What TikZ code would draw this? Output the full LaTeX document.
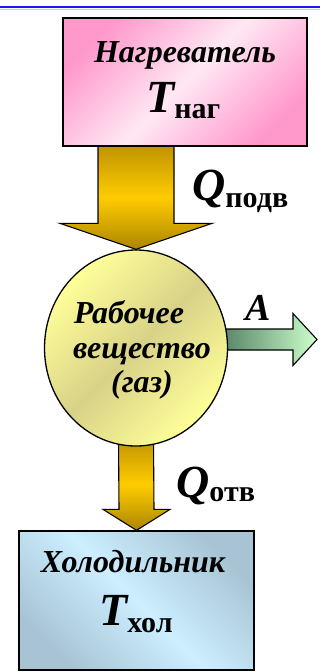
\documentclass[tikz,border=0pt]{standalone}
\usepackage{fontspec}
\setmainfont{Liberation Serif}[BoldItalicFont={Liberation Serif Bold Italic}, BoldFont={Liberation Serif Bold}]
\usetikzlibrary{calc,backgrounds,shapes.geometric}
\definecolor{pinkdeep}{HTML}{FF99CC}
\definecolor{pinklight}{HTML}{FFE8F4}
\definecolor{golddark}{HTML}{BF9400}
\definecolor{goldlight}{HTML}{FFCC00}
\definecolor{gaslight}{HTML}{FFFF99}
\definecolor{gasdark}{HTML}{D8D288}
\definecolor{greendark}{HTML}{568466}
\definecolor{greenlight}{HTML}{CCFFCC}
\definecolor{bluelight}{HTML}{CCEEFF}
\definecolor{bluegray}{HTML}{A8C4D4}
\definecolor{topline}{HTML}{1A1AFF}
\newcommand{\BigLetter}[1]{{\fontsize{46}{46}\selectfont\bfseries\itshape #1}}
\newcommand{\SubText}[2][6pt]{\raisebox{-#1}{\fontsize{30}{30}\selectfont\bfseries #2}}
\begin{document}
\begin{tikzpicture}[x=1pt,y=-1pt,
  boxstyle/.style={draw=black, line width=1.3pt, rectangle, inner sep=0pt},
  lbl/.style={inner sep=0pt, font=\fontsize{32}{32}\selectfont\bfseries\itshape},
  goldarrow/.style={draw=black, line width=1.1pt, top color=golddark, bottom color=golddark!90!black, middle color=goldlight},
  greenarrow/.style={draw=black, line width=1.1pt, left color=greendark, right color=greenlight}]
\useasboundingbox (0,0) rectangle (320,672);
% top rule
\draw[topline, line width=2.2pt] (0,7) -- (320,7);
\draw[topline!25, line width=1pt] (0,9.5) -- (320,9.5);
% boxes
\node[boxstyle, minimum width=244, minimum height=128, top color=pinkdeep, bottom color=pinkdeep, middle color=pinklight, shading angle=45] (heater) at (185,82) {};
\node[boxstyle, minimum width=235, minimum height=139, top color=bluegray, bottom color=bluegray, middle color=bluelight, shading angle=-45] (cooler) at (136.5,600.5) {};
\node[draw=black, line width=1.3pt, ellipse, minimum width=183, minimum height=196, inner sep=0pt, top color=gaslight, bottom color=gaslight, middle color=gasdark, shading angle=45] (gas) at (136,348) {};
% arrows
\coordinate (ta) at (gas.north |- heater.south);
\coordinate (aend) at (317,339.5);
\coordinate (ga) at ($(gas.east)+(-6,-8.5)$);
\begin{pgfonlayer}{background}
\shade[goldarrow] ($(ta)+(-38,-1)$) -- ($(ta)+(38,-1)$) -- ($(gas.north)+(38,-26)$) -- ($(gas.north)+(76,-26)$) -- (gas.north) -- ($(gas.north)+(-76,-26)$) -- ($(gas.north)+(-38,-26)$) -- cycle;
\shade[goldarrow] ($(gas.south)+(-17.5,-8)$) -- ($(gas.south)+(17.5,-8)$) -- ($(cooler.north)+(17.5,-21)$) -- ($(cooler.north)+(33.5,-21)$) -- (cooler.north) -- ($(cooler.north)+(-33.5,-21)$) -- ($(cooler.north)+(-17.5,-21)$) -- cycle;
\shade[greenarrow] ($(ga)+(0,-10.5)$) -- ($(aend)+(-24,-10.5)$) -- ($(aend)+(-24,-26)$) -- (aend) -- ($(aend)+(-24,26)$) -- ($(aend)+(-24,10.5)$) -- ($(ga)+(0,10.5)$) -- cycle;
\end{pgfonlayer}
% texts
\node[lbl, anchor=base] (hname) at (185,62) {Нагреватель};
\node[inner sep=0pt, anchor=base west] (htemp) at (146,112) {\BigLetter{T}\SubText{наг}};
\node[inner sep=0pt, anchor=base west] (qin) at (192,200) {\BigLetter{Q}\SubText[7pt]{подв}};
\node[inner sep=0pt, anchor=base, font=\fontsize{38}{38}\selectfont\bfseries\itshape] (work) at (258,320) {A};
\node[lbl, anchor=base] (g1) at (129,323) {Рабочее};
\node[lbl, anchor=base] (g2) at (142,358) {вещество};
\node[lbl, anchor=base] (g3) at (142,392) {(газ)};
\node[inner sep=0pt, anchor=base west] (qout) at (176,497) {\BigLetter{Q}\SubText[4pt]{отв}};
\node[lbl, anchor=base] (cname) at (133,572) {Холодильник};
\node[inner sep=0pt, anchor=base west] (ctemp) at (99,625) {\BigLetter{T}\SubText[7pt]{хол}};
\end{tikzpicture}
\end{document}
